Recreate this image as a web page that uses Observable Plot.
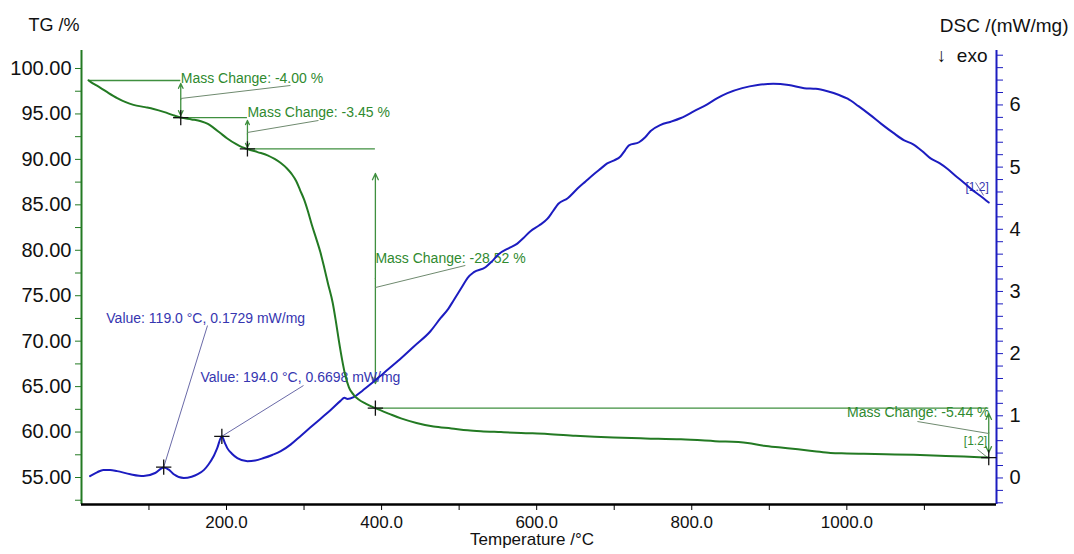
<!DOCTYPE html>
<html>
<head>
<meta charset="utf-8">
<script src="https://cdn.jsdelivr.net/npm/d3@7"></script>
<script src="https://cdn.jsdelivr.net/npm/@observablehq/plot@0.6"></script>
<style>
  html, body { margin: 0; padding: 0; background: #fff; }
  #chart svg { display: block; }
</style>
</head>
<body>
<div id="chart"></div>
<script>
// ---------- data ----------
const tgTemp = [22,26,30,37,48,59,70,80,95,106,120,130,141,155,167,176,183,192,201,212,220,227,240,253,262,270,278,284,290,295,300,305,310,316,321,326,331,337,341,345,349,353,358,364,370,380,392,410,425,445,467,490,511,528,554,580,614,650,699,740,786,830,872,893,915,937,958,979,1000,1022,1050,1086,1120,1151,1183];
const tgMass = [98.70,98.45,98.25,97.90,97.30,96.75,96.30,96.00,95.75,95.55,95.20,94.90,94.60,94.40,94.20,93.90,93.50,92.90,92.30,91.70,91.35,91.15,90.80,90.45,90.05,89.60,89.00,88.40,87.60,86.60,85.60,84.30,82.80,81.20,79.80,78.10,76.30,74.20,72.20,70.00,68.00,66.30,64.90,64.10,63.60,63.10,62.63,62.00,61.50,61.00,60.60,60.40,60.20,60.10,60.00,59.90,59.80,59.60,59.40,59.30,59.20,59.00,58.80,58.50,58.30,58.10,57.90,57.70,57.65,57.60,57.55,57.50,57.40,57.30,57.19];

const dscTemp = [24,33,41,50,59,76,93,108,119,126,132,145,155,163,171,177,183,188,194,198,201,207,214,227,237,248,259,270,283,296,308,321,334,347,352,356,364,375,386,403,421,442,463,476,486,493,504,511,519,534,542,551,563,575,583,592,603,614,621,628,640,653,663,674,683,691,700,708,714,719,732,740,747,760,773,786,803,820,833,846,865,885,905,925,945,960,975,990,1001,1015,1030,1044,1060,1074,1085,1097,1108,1120,1130,1140,1151,1162,1172,1183];
const dscValue = [0.03,0.09,0.13,0.13,0.11,0.06,0.03,0.08,0.17,0.13,0.06,0.00,0.02,0.06,0.13,0.22,0.34,0.48,0.67,0.56,0.48,0.39,0.32,0.27,0.28,0.32,0.37,0.43,0.54,0.68,0.81,0.95,1.09,1.24,1.29,1.27,1.30,1.40,1.51,1.69,1.88,2.12,2.36,2.57,2.72,2.86,3.08,3.22,3.31,3.39,3.48,3.60,3.69,3.77,3.86,3.97,4.06,4.17,4.29,4.41,4.50,4.66,4.77,4.89,4.98,5.06,5.11,5.17,5.27,5.35,5.40,5.48,5.58,5.68,5.73,5.79,5.90,6.01,6.11,6.19,6.27,6.32,6.34,6.32,6.27,6.26,6.22,6.16,6.10,5.98,5.84,5.70,5.55,5.43,5.37,5.26,5.14,5.06,4.97,4.86,4.75,4.63,4.54,4.43];

// TG step annotations (mass-change evaluation)
const stepTemp  = [141, 227, 392, 1183];
const stepMass  = [94.60, 91.15, 62.63, 57.19];
const stepStart = [22, 132, 224, 392];
const startMass = [98.68, 94.60, 91.15, 62.63];
const stepLabels = ["Mass Change: -4.00 %", "Mass Change: -3.45 %", "Mass Change: -28.52 %", "Mass Change: -5.44 %"];

// DSC peak annotations
const peakTemp = [119.0, 194.0];
const peakValue = [0.1729, 0.6698];
const peakLabels = ["Value: 119.0 °C, 0.1729 mW/mg", "Value: 194.0 °C, 0.6698 mW/mg"];

// axis ticks
const xMajor = [200, 400, 600, 800, 1000];
const xMinor = [100, 300, 500, 700, 900, 1100];
const tgTicks = [55, 60, 65, 70, 75, 80, 85, 90, 95, 100];
const tgMinor = [52.5, 57.5, 62.5, 67.5, 72.5, 77.5, 82.5, 87.5, 92.5, 97.5];
const dscTicks = [0, 1, 2, 3, 4, 5, 6];
const dscMinor = d3.range(-0.4, 6.81, 0.2).map(v => Math.round(v * 10) / 10).filter(v => !Number.isInteger(v));

// ---------- scale helpers ----------
const tempDomain = [13, 1193];
const tgDomain = [52.03, 101.98];
// DSC shares the vertical scale: DSC value -> TG-scale position
const dscOffset = 54.95, dscFactor = 6.84;
const dscY = v => dscOffset + dscFactor * v;
const dscInv = y => (y - dscOffset) / dscFactor;

const GREEN = "#237a23";
const GREEN_TXT = "#2f8a2f";
const GREEN_LINE = "#3f8f3f";
const LEADER_G = "#6f8a6f";
const BLUE = "#1c1cc0";
const BLUE_TXT = "#3636b0";
const LEADER_B = "#6a6aa8";
const FONT = "Liberation Sans, Arial, sans-serif";

const tg = tgTemp.map((t, i) => ({t, v: tgMass[i]}));
const dsc = dscTemp.map((t, i) => ({t, v: dscY(dscValue[i])}));

const levels = stepTemp.map((t, i) => ({x1: stepStart[i], x2: t, y: startMass[i]}));
const arrowsV = [
  {x: 141, y1: 98.35, y2: 94.83},
  {x: 227, y1: 94.28, y2: 91.31},
  {x: 392, y1: 88.45, y2: 65.34},
  {x: 1183, y1: 62.04, y2: 57.75}
];
const arrowHalves = arrowsV.flatMap(a => {
  const m = (a.y1 + a.y2) / 2;
  return [{x: a.x, y1: m, y2: a.y1}, {x: a.x, y1: m, y2: a.y2}];
});
const leadersG = [
  {x1: 141, y1: 96.7, x2: 282.5, y2: 98.13},
  {x1: 227, y1: 92.96, x2: 318.6, y2: 94.28},
  {x1: 392, y1: 75.9, x2: 508, y2: 78.33},
  {x1: 1183, y1: 59.84, x2: 1091, y2: 61.16},
  {x1: 1168.5, y1: 58.08, x2: 1183, y2: 57.09}
];
const labelsStart = [
  {x: 141, y: 98.9, text: stepLabels[0]},
  {x: 227, y: 95.16, text: stepLabels[1]},
  {x: 392, y: 79.1, text: stepLabels[2]}
];
const labelsEnd = [
  {x: 1184, y: 62.15, text: stepLabels[3]}
];
const leadersB = [
  {x1: peakTemp[0], y1: dscY(peakValue[0]), x2: 175.5, y2: 71.72},
  {x1: peakTemp[1], y1: dscY(peakValue[1]), x2: 299.3, y2: 65.12},
  {x1: 1166, y1: 87.46, x2: 1176.3, y2: 86.03}
];
const labelsB = [
  {x: 45, y: 72.5, text: peakLabels[0]},
  {x: 166.5, y: 66.0, text: peakLabels[1]}
];
const markers = [
  ...stepTemp.map((t, i) => ({t, v: stepMass[i]})),
  ...peakTemp.map((t, i) => ({t, v: dscY(peakValue[i])}))
];

const chart = Plot.plot({
  width: 1074,
  height: 554,
  marginLeft: 81,
  marginRight: 78,
  marginTop: 50,
  marginBottom: 50,
  style: {fontFamily: FONT, background: "#fff", overflow: "visible"},
  x: {domain: tempDomain},
  y: {domain: tgDomain},
  marks: [
    // axes
    Plot.axisX(xMajor, {anchor: "bottom", tickSize: 6, tickPadding: 5, fontSize: 17, tickFormat: d => d.toFixed(1), stroke: "#000", fill: "#111", label: null}),
    Plot.axisX(xMinor, {anchor: "bottom", tickSize: 6, tickFormat: () => "", stroke: "#000", label: null}),
    Plot.axisY(tgTicks, {anchor: "left", tickSize: 6, tickPadding: 4, fontSize: 20, tickFormat: d => d.toFixed(2), stroke: GREEN, fill: "#111", label: null}),
    Plot.axisY(tgMinor, {anchor: "left", tickSize: 6, tickFormat: () => "", stroke: GREEN, label: null}),
    Plot.axisY(dscTicks.map(dscY), {anchor: "right", tickSize: 6, tickPadding: 7, fontSize: 20, tickFormat: y => String(Math.round(dscInv(y))), stroke: BLUE, fill: "#111", label: null}),
    Plot.axisY(dscMinor.map(dscY), {anchor: "right", tickSize: 6, tickFormat: () => "", stroke: BLUE, label: null}),
    Plot.ruleX([tempDomain[0]], {stroke: GREEN, strokeWidth: 2}),
    Plot.ruleX([tempDomain[1]], {stroke: BLUE, strokeWidth: 2}),
    Plot.ruleY([tgDomain[0]], {stroke: "#000", strokeWidth: 2.5}),

    // titles
    Plot.text(["TG /%"], {frameAnchor: "top-left", textAnchor: "start", dx: -53, dy: -32, fontSize: 18, fill: "#111"}),
    Plot.text(["DSC /(mW/mg)"], {frameAnchor: "top-right", textAnchor: "end", dx: 72, dy: -32, fontSize: 19, fill: "#111"}),
    Plot.text(["↓  exo"], {frameAnchor: "top-right", textAnchor: "end", dx: -9, dy: -2, fontSize: 19, fill: "#111"}),
    Plot.text(["Temperature /°C"], {frameAnchor: "bottom", dx: -7, dy: 40, fontSize: 17, fill: "#111"}),

    // TG evaluation graphics
    Plot.ruleY(levels, {y: "y", x1: "x1", x2: "x2", stroke: GREEN_LINE, strokeWidth: 1.3}),
    Plot.arrow(arrowHalves, {x1: "x", x2: "x", y1: "y1", y2: "y2", stroke: GREEN_LINE, strokeWidth: 1.3, headLength: 8, headAngle: 50}),
    Plot.link(leadersG, {x1: "x1", y1: "y1", x2: "x2", y2: "y2", stroke: LEADER_G, strokeWidth: 1}),
    Plot.text(labelsStart, {x: "x", y: "y", text: "text", textAnchor: "start", fontSize: 14, fill: GREEN_TXT}),
    Plot.text(labelsEnd, {x: "x", y: "y", text: "text", textAnchor: "end", fontSize: 14, fill: GREEN_TXT}),
    Plot.text(["[1.2]"], {x: 1181, y: 58.96, text: d => d, textAnchor: "end", fontSize: 12, fill: GREEN_TXT}),

    // DSC annotations
    Plot.link(leadersB, {x1: "x1", y1: "y1", x2: "x2", y2: "y2", stroke: LEADER_B, strokeWidth: 1}),
    Plot.text(labelsB, {x: "x", y: "y", text: "text", textAnchor: "start", fontSize: 14, fill: BLUE_TXT}),
    Plot.text(["[1.2]"], {x: 1183, y: 86.9, text: d => d, textAnchor: "end", fontSize: 12, fill: BLUE_TXT}),

    // curves
    Plot.line(dsc, {x: "t", y: "v", stroke: BLUE, strokeWidth: 2, curve: "monotone-x"}),
    Plot.line(tg, {x: "t", y: "v", stroke: GREEN, strokeWidth: 2, curve: "monotone-x"}),

    // markers
    Plot.dot(markers, {x: "t", y: "v", symbol: "plus", r: 5, stroke: "#111", strokeWidth: 1.3})
  ]
});
document.getElementById("chart").append(chart);
</script>
</body>
</html>
